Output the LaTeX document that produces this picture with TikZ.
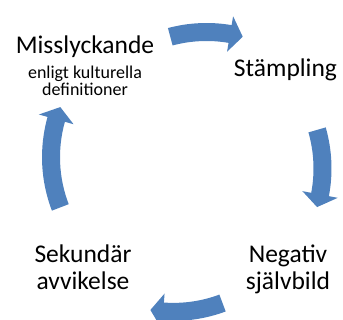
\documentclass[tikz,border=0pt]{standalone}
\usepackage{fontspec}
\setmainfont{Carlito}
\usepackage{tikz}
\usetikzlibrary{positioning}
\definecolor{cycleblue}{RGB}{79,129,189}
\tikzset{%
    % block arrows of the cycle
    flow/.style  = {fill=cycleblue},
    % texts of the cycle
    stage/.style = {align=center, inner sep=0pt,
    font=\fontsize{25.5}{27.7}\selectfont},
    note/.style  = {align=center, inner sep=0pt,
    font=\fontsize{18}{17.7}\selectfont}
}
% curved block arrow: centre of its arc, start angle, end angle
\newcommand{\cyclearrow}[3]{%
  \pgfmathsetmacro{\hb}{#3+5.3}%
  \begin{scope}[shift={#1}]
  \fill[flow] (#2:149) arc[start angle=#2, end angle=\hb, radius=149]
    -- (\hb:158) -- (#3:140) -- (\hb:122) -- (\hb:131)
    arc[start angle=\hb, end angle=#2, radius=131] -- cycle;
  \end{scope}}

\begin{document}
\begin{tikzpicture}[x=1pt, y=1pt]

	\useasboundingbox (0,0) rectangle (343,320);

	% placement des textes (base = last line)
	\node[stage, anchor=base] (miss) at (85,266.7) {Misslyckande};
	\node[note, anchor=base] (misssub) at (85,224) {enligt kulturella\\definitioner};
	\node[stage, anchor=base] (stamp) at (285.5,243.3) {Stämpling};
	\node[stage, anchor=base] (neg) at (288,30) {Negativ\\självbild};
	\node[stage, anchor=base] (sek) at (83,30) {Sekundär\\avvikelse};

	% fleches du cycle
	\cyclearrow{(206.5,148)}{105}{75}
	\cyclearrow{(182.5,151.5)}{16}{-16}
	\cyclearrow{(173.5,148.1)}{-69.5}{-99.5}
	\cyclearrow{(191,162.75)}{201}{159}

\end{tikzpicture}
\end{document}
